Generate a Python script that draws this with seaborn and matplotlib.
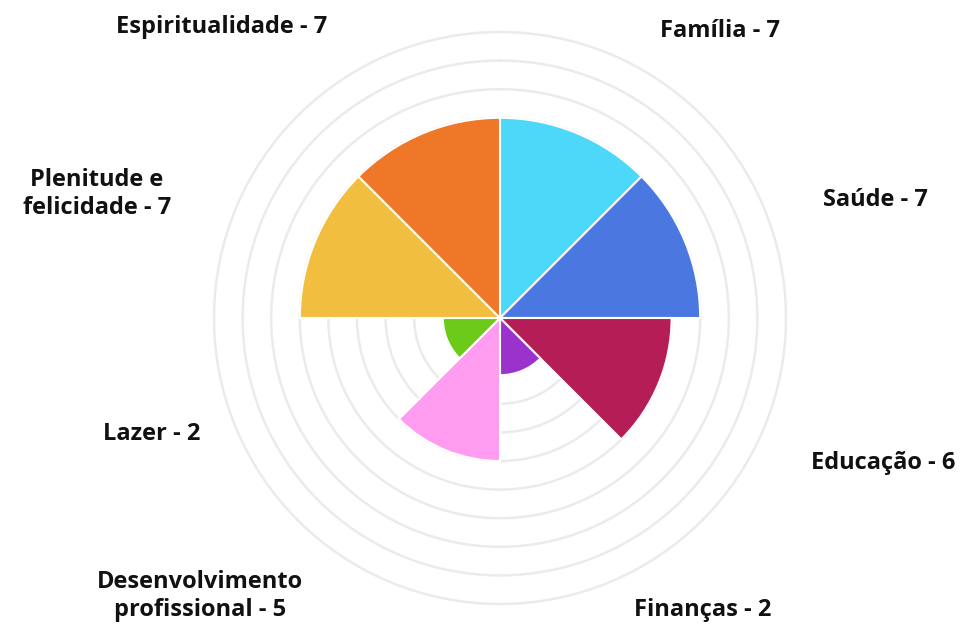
import numpy as np
import matplotlib
matplotlib.use("Agg")
import matplotlib.pyplot as plt
import seaborn as sns

# wheel of life scores, clockwise from the top
areas = ["Família", "Saúde", "Educação", "Finanças",
         "Desenvolvimento profissional", "Lazer",
         "Plenitude e felicidade", "Espiritualidade"]
scores = [7, 7, 6, 2, 5, 2, 7, 7]
colors = ["#4DD8FA", "#4A78E0", "#B41D56", "#9B32CC",
          "#FF9CEF", "#6CCB18", "#F2BE3F", "#EE7728"]
label_text = ["Família - 7", "Saúde - 7", "Educação - 6", "Finanças - 2",
              "Desenvolvimento\nprofissional - 5", "Lazer - 2",
              "Plenitude e\nfelicidade - 7", "Espiritualidade - 7"]
# label anchor points (pixels in the 969x626 figure)
label_xy = [(720, 31), (875, 200), (883, 463), (703, 610),
            (200, 596), (152, 434), (97, 194), (222, 27)]

sns.set_style("white")
plt.rcParams['font.family'] = ['Open Sans', 'DejaVu Sans']

W, H = 969, 626
fig = plt.figure(figsize=(W / 100, H / 100), dpi=100)
rmax = 10.4
cx, cy, R = 500, 318, 286 * rmax / 10
ax = fig.add_axes([(cx - R) / W, (H - cy - R) / H, 2 * R / W, 2 * R / H],
                  projection="polar")
ax.set_theta_zero_location("N")
ax.set_theta_direction(-1)

n = len(areas)
width = 2 * np.pi / n
theta = np.arange(n) * width + width / 2
ax.bar(theta, scores, width=width, color=colors, edgecolor="white",
       linewidth=1.5, zorder=3)

ax.set_ylim(0, rmax)
ax.set_yticks(np.arange(1, 11))
ax.set_yticklabels([])
ax.set_xticks([])
ax.yaxis.grid(True, color="#ebebeb", linewidth=1.8)
ax.xaxis.grid(False)
ax.spines["polar"].set_visible(False)
ax.patch.set_alpha(0)

for txt, (x, y) in zip(label_text, label_xy):
    fig.text(x / W, 1 - y / H, txt, ha="center", va="center",
             fontsize=17, fontweight="bold", color="#111111",
             linespacing=1.25)

fig.savefig("out.png", dpi=100, facecolor="white")
